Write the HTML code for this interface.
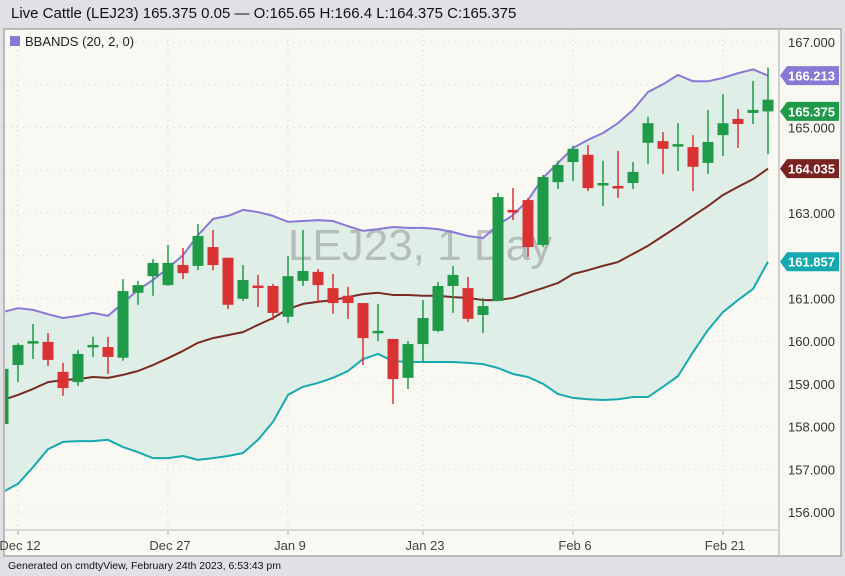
<!DOCTYPE html>
<html><head><meta charset="utf-8">
<style>
body{margin:0;width:845px;height:576px;background:#dfe1e5;font-family:"Liberation Sans",sans-serif;overflow:hidden;position:relative}
#title{position:absolute;left:11px;top:5px;font-size:15px;color:#111}
#footer{position:absolute;left:8px;top:560px;font-size:10.5px;color:#111}
svg{position:absolute;left:0;top:0}
</style></head><body>
<div id="title">Live Cattle (LEJ23) 165.375 0.05 — O:165.65 H:166.4 L:164.375 C:165.375</div>
<svg id="chart" width="845" height="576"></svg>
<div id="footer">Generated on cmdtyView, February 24th 2023, 6:53:43 pm</div>
<script>
const opens=[158.06,159.44,160.00,159.98,159.28,159.04,159.91,159.86,159.61,161.13,161.52,161.31,161.78,161.76,162.20,161.95,160.99,161.30,161.29,160.57,161.41,161.62,161.24,161.06,160.89,160.24,160.05,159.14,159.93,160.24,161.29,161.24,160.61,160.94,163.07,163.30,162.25,163.72,164.19,164.36,163.70,163.63,163.70,164.64,164.68,164.61,164.54,164.17,164.82,165.20,165.34,165.375];
const highs=[159.35,159.95,160.40,160.19,159.49,159.79,160.10,160.10,161.45,161.41,161.92,162.25,162.18,162.74,162.60,161.95,161.78,161.55,161.34,161.99,162.60,161.69,161.57,161.27,160.89,160.87,160.05,160.00,160.96,161.38,161.76,161.50,161.01,163.47,163.58,163.35,163.89,164.22,164.57,164.59,164.22,164.45,164.19,165.25,164.89,165.10,164.82,165.41,165.78,165.43,166.09,166.40];
const lows=[157.80,159.04,159.58,159.42,158.72,158.95,159.63,159.23,159.54,160.85,161.06,161.29,161.45,161.66,161.66,160.75,160.94,160.80,160.49,160.42,161.29,160.89,160.64,160.52,159.44,160.00,158.53,158.88,159.49,160.21,160.66,160.45,160.19,160.94,162.83,161.97,162.20,163.56,163.75,163.51,163.16,163.35,163.56,164.15,163.91,163.98,163.51,163.91,164.33,164.52,165.08,164.375];
const closes=[159.35,159.91,160.00,159.56,158.90,159.70,159.91,159.63,161.17,161.31,161.83,161.83,161.59,162.46,161.78,160.85,161.43,161.28,160.66,161.52,161.64,161.31,160.89,160.89,160.07,160.24,159.11,159.93,160.54,161.29,161.55,160.52,160.82,163.37,163.02,162.20,163.84,164.12,164.50,163.58,163.70,163.58,163.96,165.10,164.50,164.61,164.08,164.66,165.10,165.08,165.41,165.65];
const upperBand=[160.68,160.77,160.73,160.63,160.54,160.59,160.66,160.59,160.89,161.20,161.43,161.71,162.01,162.48,162.86,162.93,163.07,163.02,162.93,162.79,162.81,162.83,162.81,162.69,162.58,162.62,162.67,162.65,162.65,162.62,162.55,162.46,162.41,162.72,162.95,163.30,163.82,164.17,164.52,164.71,164.87,165.10,165.41,165.83,166.01,166.23,166.08,166.08,166.16,166.27,166.36,166.213];
const middleBand=[158.62,158.74,158.88,159.04,159.09,159.11,159.16,159.14,159.21,159.30,159.44,159.60,159.77,159.96,160.07,160.14,160.21,160.38,160.54,160.75,160.87,160.92,160.96,161.03,161.10,161.13,161.08,161.08,161.06,161.06,161.03,161.01,160.96,160.96,161.01,161.13,161.24,161.36,161.57,161.66,161.76,161.85,162.04,162.23,162.46,162.69,162.93,163.16,163.42,163.61,163.79,164.035];
const lowerBand=[156.47,156.66,157.05,157.47,157.64,157.66,157.66,157.69,157.52,157.40,157.26,157.26,157.31,157.22,157.26,157.31,157.38,157.69,158.11,158.74,158.93,159.02,159.14,159.30,159.58,159.70,159.53,159.51,159.51,159.51,159.51,159.49,159.46,159.37,159.23,159.16,159.00,158.76,158.67,158.64,158.62,158.64,158.69,158.69,158.93,159.18,159.74,160.26,160.68,160.96,161.22,161.857];
const yTicks=[156,157,158,159,160,161,162,163,164,165,166,167];
const dateLabels=["Dec 12","Dec 27","Jan 9","Jan 23","Feb 6","Feb 21"];
const dateIndex=[1,11,19,28,38,48];
const tagValues=[166.213,165.375,164.035,161.857];
const tagColors=["#8a78d6","#1f9a48","#7a2320","#17a9b0"];

const NS="http://www.w3.org/2000/svg";
const svg=document.getElementById('chart');
function X(i){return 3+15*i;}
function Y(p){return 42+(167-p)*42.727;}
function mk(tag,attrs,parent){const e=document.createElementNS(NS,tag);for(const k in attrs)e.setAttribute(k,attrs[k]);(parent||svg).appendChild(e);return e;}

let e=mk('rect',{x:4,y:29,width:837,height:527,fill:'#faf8f2',stroke:'#8a8a8a','stroke-width':1});


const clip=mk('clipPath',{id:'pc'});mk('rect',{x:5,y:30,width:773,height:499},clip);
const g=mk('g',{'clip-path':'url(#pc)'});



yTicks.forEach(t=>{
  const l=mk('line',{x1:5,x2:778,y1:Y(t),y2:Y(t),stroke:'#cfcfcf','stroke-dasharray':'1 5'},g);
  
  
  if(t===166||t===162) return;
  const tx=mk('text',{x:835,y:Y(t)+5,'text-anchor':'end','font-size':13,fill:'#333'});
  tx.textContent=t.toFixed(3);
  
  
});
dateIndex.forEach((di,k)=>{
  const l=mk('line',{x1:X(di),x2:X(di),y1:30,y2:529,stroke:'#cfcfcf','stroke-dasharray':'1 4'},g);
  
  
  const tk=mk('line',{x1:X(di),x2:X(di),y1:530,y2:535,stroke:'#aaa'});
  
  
  const tx=mk('text',{x:X(di)+2,y:550,'text-anchor':'middle','font-size':13,fill:'#444'});
  tx.textContent=dateLabels[k];
  
  
});
let ax=mk('line',{x1:5,x2:778,y1:530,y2:530,stroke:'#d8d8d8','stroke-width':2});


let ay=mk('line',{x1:779,x2:779,y1:30,y2:555,stroke:'#d0d0d0','stroke-width':2});



// band fill
let pts=upperBand.map((v,i)=>X(i)+','+Y(v)).join(' ')+' '+lowerBand.map((v,i)=>X(i)+','+Y(v)).reverse().join(' ');
let fill=mk('polygon',{points:pts,fill:'#e0eee8'},g);



// watermark
let wm=mk('text',{x:420,y:260,'text-anchor':'middle','font-size':44,fill:'rgba(110,110,110,0.38)'},g);
wm.textContent='LEJ23, 1 Day';



function line(arr,color,name){
  const p=mk('polyline',{points:arr.map((v,i)=>X(i)+','+Y(v)).join(' '),fill:'none',stroke:color,'stroke-width':2,'stroke-linejoin':'round'},g);
  
  
}
line(upperBand,'#8a78d6','upper-band-line');
line(middleBand,'#7a2a24','middle-band-line');
line(lowerBand,'#17a9b0','lower-band-line');

opens.forEach((o,i)=>{
  const c=closes[i];const up=c>=o;const col=up?'#1f9a48':'#d83232';
  const cg=mk('g',{},g);
  
  
  mk('line',{x1:X(i),x2:X(i),y1:Y(highs[i]),y2:Y(lows[i]),stroke:col,'stroke-width':1.5},cg);
  const top=Y(Math.max(o,c)),bot=Y(Math.min(o,c));
  mk('rect',{x:X(i)-5.5,y:top,width:11,height:Math.max(bot-top,2.5),fill:col},cg);
});

// legend
let lg=mk('rect',{x:10,y:36,width:10,height:10,fill:'#8a78d6'});


let lt=mk('text',{x:25,y:46,'font-size':13,fill:'#222'});
lt.textContent='BBANDS (20, 2, 0)';



// price tags
tagValues.forEach((v,k)=>{
  const y=Y(v);
  const tg=mk('g',{});
  
  
  mk('polygon',{points:`780,${y} 787,${y-9.5} 839,${y-9.5} 839,${y+9.5} 787,${y+9.5}`,fill:tagColors[k]},tg);
  const t=mk('text',{x:835,y:y+5,'text-anchor':'end','font-size':13,'font-weight':'bold',fill:'#fff'},tg);
  t.textContent=v.toFixed(3);
});
</script>
</body></html>
